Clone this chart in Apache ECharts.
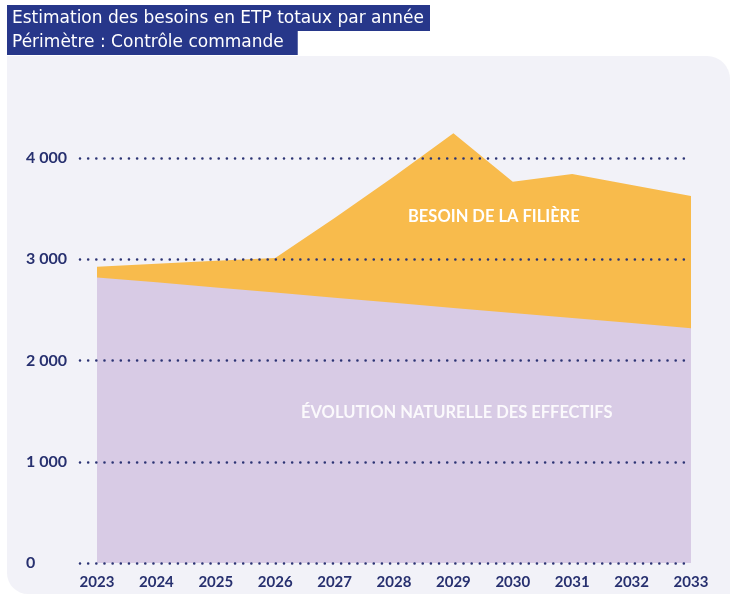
<!DOCTYPE html>
<html>
<head>
<meta charset="utf-8">
<script src="https://cdn.jsdelivr.net/npm/echarts@6/dist/echarts.min.js"></script>
<style>
html,body{margin:0;padding:0;background:#ffffff;}
#chart{width:730px;height:594px;}
</style>
</head>
<body>
<div id="chart"></div>
<script>
const years = ['2023','2024','2025','2026','2027','2028','2029','2030','2031','2032','2033'];
const besoinFiliere = [2926, 2955, 2984, 3012, 3408, 3817, 4244, 3766, 3842, 3733, 3625];
const evolutionNaturelle = [2820, 2772, 2722, 2672, 2620, 2570, 2518, 2468, 2420, 2370, 2318];
const yTicks = [0, 1000, 2000, 3000, 4000];
const titleLine1 = 'Estimation des besoins en ETP totaux par année';
const titleLine2 = 'Périmètre : Contrôle commande';
const labelBesoin = 'BESOIN DE LA FILIÈRE';
const labelEvolution = 'ÉVOLUTION NATURELLE DES EFFECTIFS';

const navy = '#27306f';
const fmt = v => String(v).replace(/\B(?=(\d{3})+(?!\d))/g, ' ');

const chart = echarts.init(document.getElementById('chart'), null, {renderer: 'canvas'});
chart.setOption({
  backgroundColor: '#ffffff',
  animation: false,
  title: [
    {text: titleLine1, left: 7, top: 5, backgroundColor: '#27378a', padding: [4, 6, 3, 5],
     textStyle: {color: '#ffffff', fontFamily: 'DejaVu Sans', fontSize: 17, fontWeight: 'normal', lineHeight: 19}},
    {text: titleLine2, left: 7, top: 31, backgroundColor: '#27378a', padding: [2, 14, 3, 5],
     textStyle: {color: '#ffffff', fontFamily: 'DejaVu Sans', fontSize: 17, fontWeight: 'normal', lineHeight: 19}}
  ],
  graphic: [
    {type: 'rect', z: -10, silent: true,
     shape: {x: 7, y: 56, width: 723, height: 538, r: [0, 23, 0, 21]},
     style: {fill: '#f2f2f8'}},
    {type: 'text', z: 100, left: 408, top: 208,
     style: {text: labelBesoin, fill: '#ffffff', font: 'bold 16.5px Lato'}},
    {type: 'text', z: 100, left: 301, top: 404,
     style: {text: labelEvolution, fill: 'rgba(255,255,255,0.88)', font: 'bold 16.5px Lato'}}
  ],
  grid: [
    {left: 80, right: 39, top: 158, bottom: 31},
    {left: 97, right: 39, top: 563 - 4.5 * 101.25, bottom: 31}
  ],
  xAxis: [
    {gridIndex: 0, type: 'category', data: years, show: false, boundaryGap: false},
    {gridIndex: 1, type: 'category', data: years, boundaryGap: false,
     axisLine: {show: false}, axisTick: {show: false}, splitLine: {show: false},
     axisLabel: {color: navy, fontFamily: 'Lato', fontWeight: 'bold', fontSize: 15, margin: 12}}
  ],
  yAxis: [
    {gridIndex: 0, type: 'value', min: yTicks[0], max: yTicks[yTicks.length - 1], interval: 1000, z: 10,
     axisLine: {show: false}, axisTick: {show: false},
     axisLabel: {color: navy, fontFamily: 'Lato', fontWeight: 'bold', fontSize: 16, margin: 54, align: 'left',
       formatter: v => fmt(v)},
     splitLine: {show: true, lineStyle: {color: '#2c3474', width: 2.6, type: [0.01, 8.15], cap: 'round'}}},
    {gridIndex: 1, type: 'value', min: 0, max: 4500, show: false, splitLine: {show: false}}
  ],
  series: [
    {name: labelBesoin, type: 'line', xAxisIndex: 1, yAxisIndex: 1, data: besoinFiliere,
     symbol: 'none', lineStyle: {width: 0}, areaStyle: {color: '#f8bb4c', opacity: 1}, z: 2},
    {name: labelEvolution, type: 'line', xAxisIndex: 1, yAxisIndex: 1, data: evolutionNaturelle,
     symbol: 'none', lineStyle: {width: 0}, areaStyle: {color: '#d8cbe5', opacity: 1}, z: 3}
  ]
});
</script>
</body>
</html>
